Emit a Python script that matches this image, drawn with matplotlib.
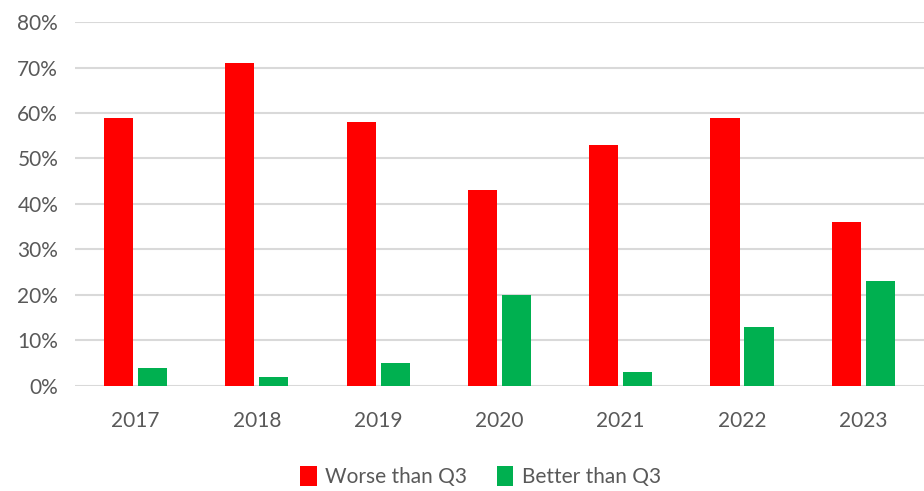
import numpy as np
import matplotlib.pyplot as plt
from matplotlib.ticker import PercentFormatter

plt.rcParams['font.family'] = ['Lato', 'DejaVu Sans']

years  = ['2017', '2018', '2019', '2020', '2021', '2022', '2023']
worse  = [59, 71, 58, 43, 53, 59, 36]
better = [4, 2, 5, 20, 3, 13, 23]

red   = '#ff0000'
green = '#00b050'
grey  = '#595959'

fig = plt.figure(figsize=(9.24, 4.91), dpi=100)
ax = fig.add_axes([0.081, 0.2145, 0.919, 0.7405])

x = np.arange(len(years))
w = 0.24
gap = 0.04
ax.bar(x - (w + gap) / 2, worse, w, color=red, label='Worse than Q3', zorder=3)
ax.bar(x + (w + gap) / 2, better, w, color=green, label='Better than Q3', zorder=3)

ax.set_xlim(-0.5, len(years) - 0.5)
ax.set_ylim(0, 80)
ax.set_yticks(range(0, 81, 10))
ax.yaxis.set_major_formatter(PercentFormatter(decimals=0))
ax.set_xticks(x)
ax.set_xticklabels(years)

ax.grid(axis='y', color='#d9d9d9', linewidth=1.5, zorder=0)
for s in ax.spines.values():
    s.set_visible(False)
ax.tick_params(length=0, labelsize=15, labelcolor=grey)
ax.tick_params(axis='x', pad=18)
ax.tick_params(axis='y', pad=12)

fig.legend(loc='center', bbox_to_anchor=(0.52, 0.03), ncol=2, frameon=False,
           fontsize=15, labelcolor=grey, handlelength=0.8, handleheight=1.1,
           handletextpad=0.4, columnspacing=1.4)

plt.savefig('out.png', dpi=100)
plt.close()
